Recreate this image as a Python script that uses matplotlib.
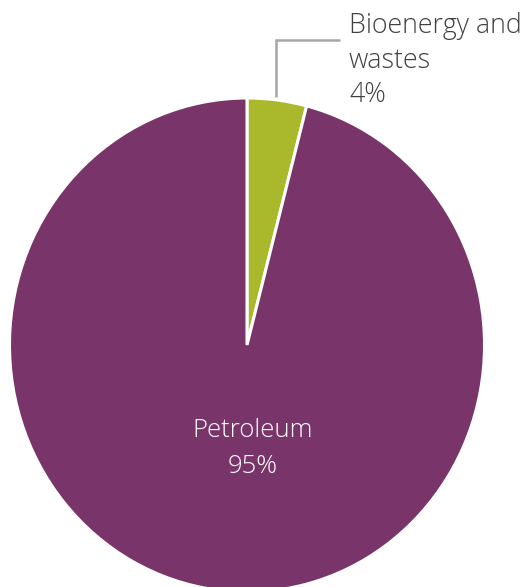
import matplotlib
matplotlib.use("Agg")
import matplotlib.pyplot as plt

categories = ["Bioenergy and\nwastes", "Petroleum"]
values = [4, 95]
colors = ["#AAB92B", "#79346A"]

W, H = 527, 587
fig = plt.figure(figsize=(W / 100, H / 100), dpi=100)

# pie axes: box spanning the (slightly vertically stretched) pie in pixels
left, right, top, bottom = 9.5, 484.5, 98.0, 592.0
ax = fig.add_axes([left / W, (H - bottom) / H, (right - left) / W, (bottom - top) / H])
ax.pie(values, colors=colors, startangle=90, counterclock=False,
       radius=1, wedgeprops=dict(edgecolor="white", linewidth=2.2))
ax.set_xlim(-1, 1)
ax.set_ylim(-1, 1)
ax.set_aspect("auto")
ax.axis("off")

# overlay axes in pixel coordinates (y from top) for labels and leader line
ov = fig.add_axes([0, 0, 1, 1], zorder=5)
ov.set_xlim(0, W)
ov.set_ylim(H, 0)
ov.axis("off")
ov.patch.set_alpha(0)

font = "Open Sans"
wt = 300

# Petroleum label inside
pet_lines = [categories[1], f"{values[1]}%"]
for i, s in enumerate(pet_lines):
    ov.text(253, 437 + i * 36, s, ha="center", va="baseline",
            color="white", fontsize=18.5, family=font, fontweight=wt)

# Bioenergy label outside with leader line
bio_lines = categories[0].split("\n") + [f"{values[0]}%"]
for i, s in enumerate(bio_lines):
    ov.text(349, 33 + i * 34.5, s, ha="left", va="baseline",
            color="#404040", fontsize=19.3, family=font, fontweight=wt)
ov.plot([276, 276, 340], [97, 40, 40], color="#A6A6A6", lw=1.8,
        solid_capstyle="butt", solid_joinstyle="miter")

fig.savefig("out.png", dpi=100)
